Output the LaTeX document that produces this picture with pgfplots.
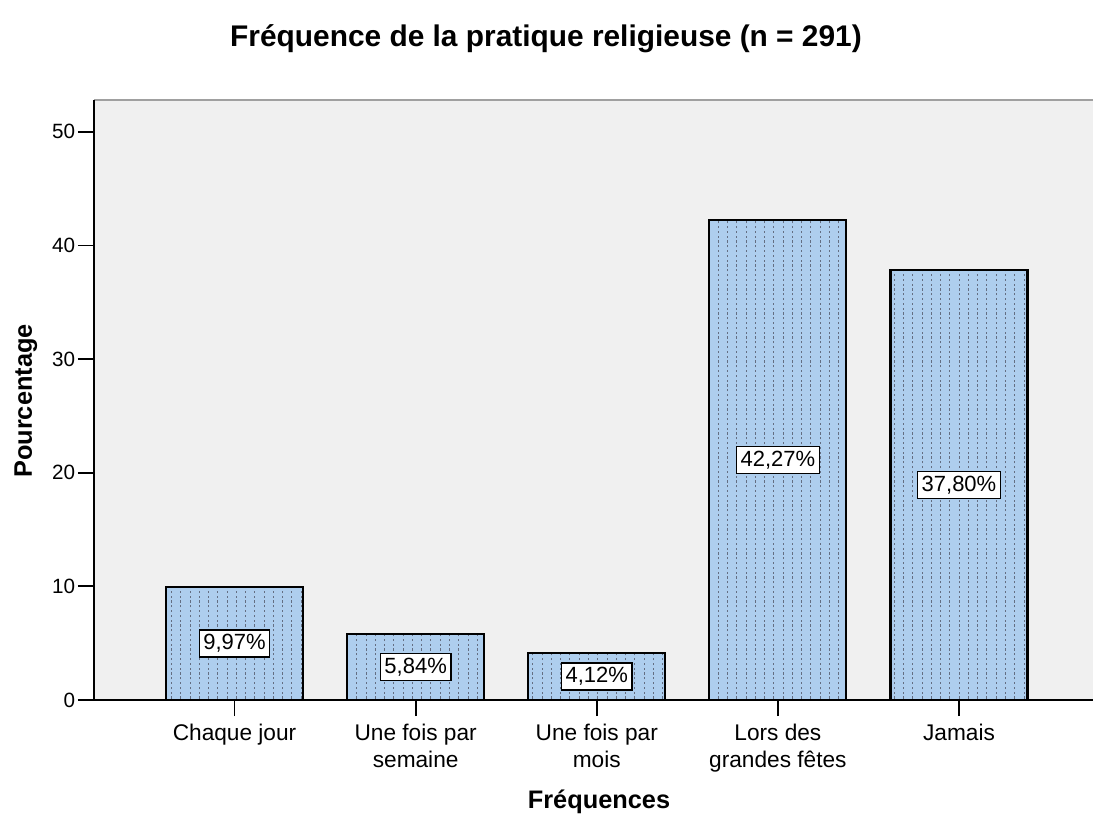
\documentclass[border=0pt]{standalone}
\usepackage{fontspec}
\setmainfont{Liberation Sans}
\usepackage{pgfplots}
\pgfplotsset{compat=1.18}
\usetikzlibrary{patterns}
\definecolor{bggray}{RGB}{240,240,240}
\definecolor{barblue}{RGB}{174,206,238}
\definecolor{dashcol}{RGB}{100,110,130}
\definecolor{topgray}{RGB}{160,160,160}
\pgfdeclarepatternformonly{vdash}{\pgfpoint{-0.1pt}{-0.1pt}}{\pgfpoint{7pt}{3.7pt}}{\pgfpoint{6.95pt}{3.6pt}}{%
  \pgfsetlinewidth{0.75pt}%
  \pgfpathmoveto{\pgfpoint{3.5pt}{0.9pt}}%
  \pgfpathlineto{\pgfpoint{3.5pt}{2.6pt}}%
  \pgfusepath{stroke}}
\begin{document}
\begin{tikzpicture}
\path[use as bounding box] (-70.5pt,-86.25pt) rectangle (749.25pt,525pt);
\begin{axis}[
  at={(0pt,0pt)}, anchor=south west,
  scale only axis, width=749.25pt, height=450pt,
  xmin=-0.776, xmax=4.740, ymin=0, ymax=52.79,
  axis background/.style={fill=bggray},
  axis x line*=bottom, axis y line*=left,
  axis line style={black, line width=1.5pt, -},
  axis on top,
  clip=false,
  tick align=outside,
  major tick length=12pt,
  tick style={black, line width=1.3pt},
  xtick={0,1,2,3,4},
  xticklabels={Chaque jour, {Une fois par\\semaine}, {Une fois par\\mois}, {Lors des\\grandes fêtes}, Jamais},
  xticklabel style={align=center, font=\fontsize{17}{20}\selectfont, text=black, yshift=-4pt},
  ytick={0,10,20,30,40,50},
  yticklabel style={font=\fontsize{15.5}{17}\selectfont, text=black},
  /pgf/number format/assume math mode=true,
  tick label style={inner sep=2pt},
]
\addplot[ybar, bar shift=0pt, bar width=102.75pt, fill=barblue, draw=black, line width=1.6pt]
  coordinates {(0,9.97) (1,5.84) (2,4.12) (3,42.27) (4,37.80)};
\addplot[ybar, bar shift=0pt, bar width=102.75pt, pattern=vdash, pattern color=dashcol, draw=black, line width=1.6pt]
  coordinates {(0,9.97) (1,5.84) (2,4.12) (3,42.27) (4,37.80)};
\addplot[draw=none, mark=none, nodes near coords, point meta=explicit symbolic,
  nodes near coords style={anchor=center, fill=white, draw=black, line width=1pt,
    inner xsep=3pt, inner ysep=3.3pt, font=\fontsize{16.5}{18}\selectfont, text=black}]
  coordinates {(0,4.985) [9,97\%] (1,2.92) [5,84\%] (2,2.06) [4,12\%] (3,21.135) [42,27\%] (4,18.90) [37,80\%]};
\draw[topgray, line width=1.5pt] (rel axis cs:0,1) -- (rel axis cs:1,1);
\end{axis}
\node[anchor=base, font=\bfseries\fontsize{22.4}{26}\selectfont] at (339pt,489.75pt) {Fréquence de la pratique religieuse (n = 291)};
\node[anchor=base, rotate=90, font=\bfseries\fontsize{19}{22}\selectfont] at (-46.5pt,224.25pt) {Pourcentage};
\node[anchor=base, font=\bfseries\fontsize{19}{22}\selectfont] at (378.75pt,-81pt) {Fréquences};
\end{tikzpicture}
\end{document}
